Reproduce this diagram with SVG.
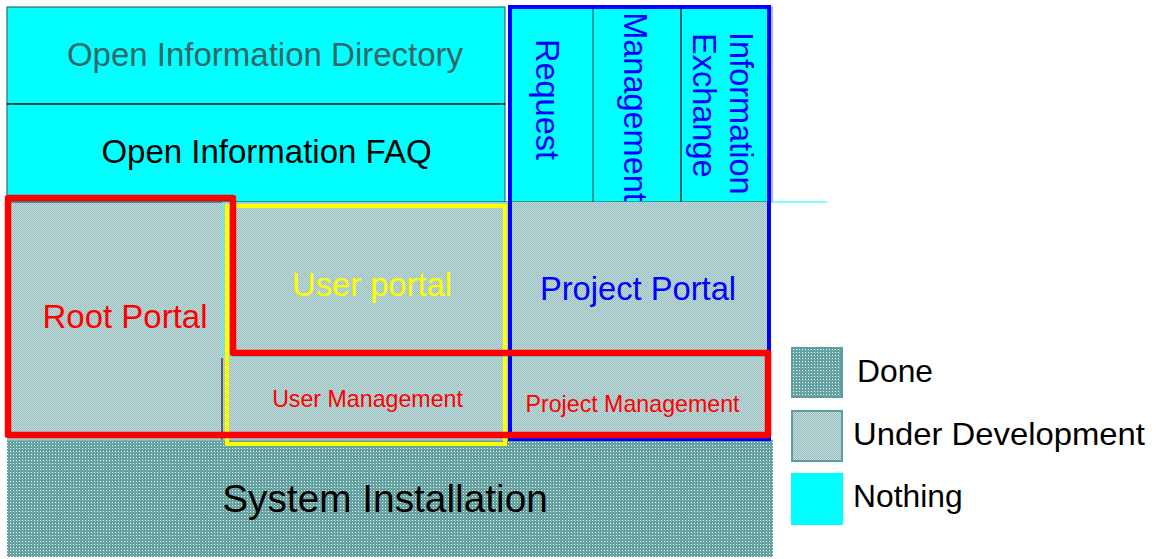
<svg xmlns="http://www.w3.org/2000/svg" width="1160" height="559" viewBox="0 0 1160 559">
  <defs>
    <pattern id="dev" width="2" height="2" patternUnits="userSpaceOnUse">
      <rect width="2" height="2" fill="#c6dede"/>
      <rect width="1" height="1" fill="#94bcbc"/>
      <rect x="1" y="1" width="1" height="1" fill="#94bcbc"/>
    </pattern>
    <pattern id="done" width="3" height="3" patternUnits="userSpaceOnUse">
      <rect width="3" height="3" fill="#62a0a0"/>
      <rect x="2" y="2" width="1" height="1" fill="#80b4b4"/>
      <rect x="1" y="1" width="1" height="1" fill="#f4fafa"/>
    </pattern>
    <style>
      text { font-family: "Liberation Sans", Arial, sans-serif; }
      .cyan { fill: #00ffff; }
      .b33 { font-size: 33px; text-anchor: middle; }
      .v { font-size: 32.5px; fill: #0000ff; }
      .sm { font-size: 23.2px; text-anchor: middle; fill: #ff0000; }
      .leg { font-size: 31.8px; fill: #000000; }
      .edge { fill: none; stroke: #2f6f6f; stroke-width: 1.2; }
    </style>
  </defs>

  <rect width="1160" height="559" fill="#ffffff"/>

  <g id="open-information-directory">
    <rect class="cyan" x="7" y="7" width="498" height="97"/>
    <rect class="edge" x="7" y="7" width="498" height="97"/>
    <text class="b33" x="265" y="66" fill="#336666">Open Information Directory</text>
  </g>

  <g id="open-information-faq">
    <rect class="cyan" x="7" y="104" width="498" height="98"/>
    <rect class="edge" x="7" y="104" width="498" height="98"/>
    <line x1="7" y1="104" x2="505" y2="104" stroke="#000" stroke-width="1.2"/>
    <text class="b33" x="266.5" y="163" fill="#000000">Open Information FAQ</text>
  </g>

  <g id="request">
    <rect class="cyan" x="510" y="7" width="83" height="195"/>
    <text class="v" text-anchor="middle" transform="translate(536,99.5) rotate(90)">Request</text>
  </g>

  <g id="management">
    <rect class="cyan" x="593" y="7" width="88" height="195"/>
    <line x1="593" y1="7" x2="593" y2="202" stroke="#2f5f5f" stroke-width="1.2"/>
    <text class="v" text-anchor="middle" transform="translate(624,107) rotate(90)">Management</text>
  </g>

  <g id="information-exchange">
    <rect class="cyan" x="681" y="7" width="87" height="195"/>
    <line x1="681" y1="7" x2="681" y2="202" stroke="#000" stroke-width="1.2"/>
    <text class="v" transform="translate(730,32) rotate(90)">Information</text>
    <text class="v" transform="translate(693,33) rotate(90)">Exchange</text>
  </g>

  <g id="root-portal">
    <rect x="7" y="202" width="216" height="238" fill="url(#dev)"/>
    <line x1="7" y1="202" x2="770" y2="202" stroke="#2f7f7f" stroke-width="1.5"/>
    <text x="125" y="328" font-size="33" text-anchor="middle" fill="#ff0000">Root Portal</text>
  </g>

  <g id="user-portal">
    <rect x="223" y="202" width="282" height="154" fill="url(#dev)"/>
    <line x1="223" y1="202" x2="223" y2="357" stroke="#40ffff" stroke-width="1"/>
    <text x="372" y="296" font-size="32.7" text-anchor="middle" fill="#ffff00">User portal</text>
  </g>

  <g id="project-portal">
    <rect x="505" y="202" width="265" height="154" fill="url(#dev)"/>
    <line x1="770" y1="202" x2="827" y2="202" stroke="#80ffff" stroke-width="2"/>
    <text x="638" y="300" font-size="32.7" text-anchor="middle" fill="#0000ff">Project Portal</text>
  </g>

  <g id="user-management">
    <rect x="223" y="356" width="282" height="84" fill="url(#dev)"/>
    <line x1="222" y1="358" x2="222" y2="440" stroke="#222" stroke-width="1.2"/>
    <text class="sm" x="367.5" y="407">User Management</text>
  </g>

  <g id="project-management">
    <rect x="505" y="356" width="265" height="84" fill="url(#dev)"/>
    <line x1="225" y1="357" x2="768" y2="357" stroke="#40ffff" stroke-width="1"/>
    <text class="sm" x="632.5" y="412">Project Management</text>
  </g>

  <g id="system-installation">
    <rect x="7" y="440" width="766" height="117" fill="url(#done)"/>
    <line x1="7" y1="440" x2="773" y2="440" stroke="#9fbfbf" stroke-width="1"/>
    <text x="385" y="512" font-size="38.8" text-anchor="middle" fill="#000000">System Installation</text>
  </g>

  <g id="outlines">
    <rect x="227" y="206" width="278" height="238" fill="none" stroke="#ffff00" stroke-width="4"/>
    <line x1="772" y1="6" x2="772" y2="202" stroke="#a0a0ff" stroke-width="1.5"/>
    <rect x="510" y="7" width="259" height="432" fill="none" stroke="#0000ff" stroke-width="4"/>
    <path d="M8,198 L233,198 L233,353 L768,353 L768,435 L8,435 Z" fill="none" stroke="#ff0000" stroke-width="6.5" stroke-linejoin="round"/>
  </g>

  <g id="legend-done">
    <rect x="792" y="348" width="50" height="49" fill="url(#done)" stroke="#5f9ea0" stroke-width="2"/>
    <text class="leg" x="857" y="382">Done</text>
  </g>
  <g id="legend-under-development">
    <rect x="792" y="411" width="50" height="50" fill="url(#dev)" stroke="#5f9ea0" stroke-width="2"/>
    <text class="leg" x="853" y="445" textLength="292" lengthAdjust="spacingAndGlyphs">Under Development</text>
  </g>
  <g id="legend-nothing">
    <rect class="cyan" x="791" y="473" width="52" height="52"/>
    <text class="leg" x="853" y="507">Nothing</text>
  </g>
</svg>
